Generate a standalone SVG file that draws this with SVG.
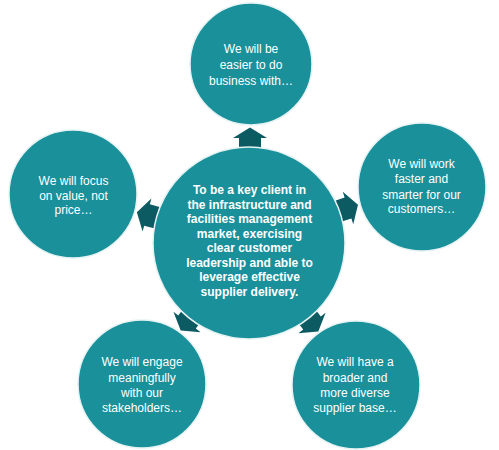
<svg xmlns="http://www.w3.org/2000/svg" width="499" height="450" viewBox="0 0 499 450">
  <defs>
    <style>
      .circ { fill: #19909a; stroke: #e6f3f3; stroke-width: 1.5; }
      .arr { fill: #0c5b63; }
      .t { font-family: "Liberation Sans", Arial, sans-serif; font-size: 12px; fill: #ffffff; text-anchor: middle; }
      .tb { font-family: "Liberation Sans", Arial, sans-serif; font-size: 12px; font-weight: bold; fill: #ffffff; text-anchor: middle; }
    </style>
    <path id="arrowShape" d="M10.5,0 L0,-17 L0,-11 L-10,-11 L-10,11 L0,11 L0,17 Z"/>
  </defs>
  <rect width="499" height="450" fill="#ffffff"/>
  <g id="connectors">
    <use href="#arrowShape" class="arr" transform="translate(250,138) rotate(-90)"/>
    <use href="#arrowShape" class="arr" transform="translate(348,208) rotate(-18)"/>
    <use href="#arrowShape" class="arr" transform="translate(147,215) rotate(195)"/>
    <use href="#arrowShape" class="arr" transform="translate(187,322) rotate(127)"/>
    <use href="#arrowShape" class="arr" transform="translate(312,323) rotate(53)"/>
  </g>
  <g id="center">
    <circle class="circ" cx="249" cy="243" r="96"/>
    <text class="tb" x="249.5" y="194">To be a key client in</text>
    <text class="tb" x="249.5" y="208.5">the infrastructure and</text>
    <text class="tb" x="249.5" y="223">facilities management</text>
    <text class="tb" x="249.5" y="237.5">market, exercising</text>
    <text class="tb" x="249.5" y="252">clear customer</text>
    <text class="tb" x="249.5" y="266.5">leadership and able to</text>
    <text class="tb" x="249.5" y="281">leverage effective</text>
    <text class="tb" x="249.5" y="295.5">supplier delivery.</text>
  </g>
  <g id="top">
    <circle class="circ" cx="251" cy="64" r="61"/>
    <text class="t" x="251" y="53">We will be</text>
    <text class="t" x="251" y="69">easier to do</text>
    <text class="t" x="251" y="85">business with…</text>
  </g>
  <g id="right">
    <circle class="circ" cx="422" cy="187" r="64"/>
    <text class="t" x="421.5" y="167.5">We will work</text>
    <text class="t" x="421.5" y="183">faster and</text>
    <text class="t" x="421.5" y="198.5">smarter for our</text>
    <text class="t" x="421.5" y="213">customers…</text>
  </g>
  <g id="left">
    <circle class="circ" cx="73" cy="194" r="64"/>
    <text class="t" x="73.5" y="185">We will focus</text>
    <text class="t" x="73.5" y="199.5">on value, not</text>
    <text class="t" x="73.5" y="214">price…</text>
  </g>
  <g id="bottom-left">
    <circle class="circ" cx="142" cy="384" r="64"/>
    <text class="t" x="142" y="366">We will engage</text>
    <text class="t" x="142" y="381.5">meaningfully</text>
    <text class="t" x="142" y="397">with our</text>
    <text class="t" x="142" y="412">stakeholders…</text>
  </g>
  <g id="bottom-right">
    <circle class="circ" cx="356" cy="385" r="64"/>
    <text class="t" x="355" y="366">We will have a</text>
    <text class="t" x="355" y="381.5">broader and</text>
    <text class="t" x="355" y="397">more diverse</text>
    <text class="t" x="355" y="411.5">supplier base…</text>
  </g>
</svg>
